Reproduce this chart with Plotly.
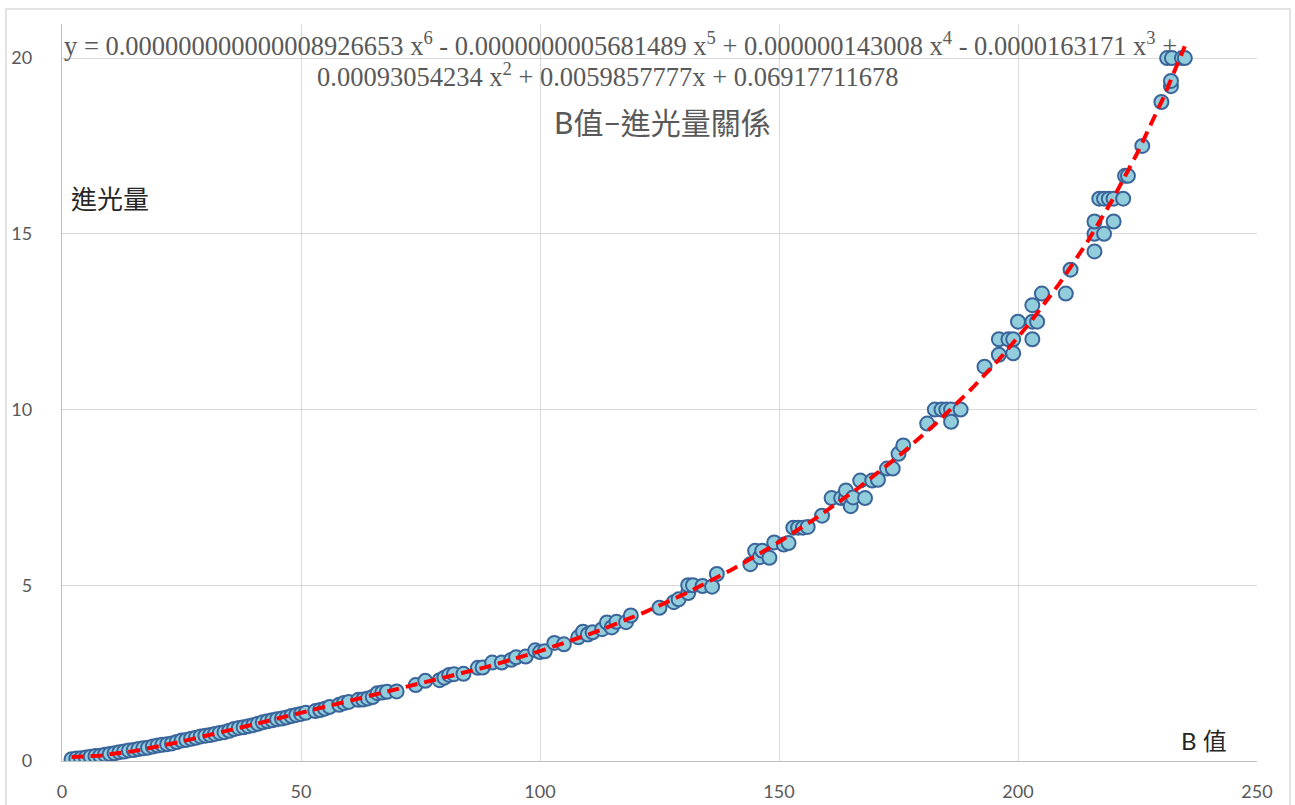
import numpy as np
import plotly.graph_objects as go

# B值 (x) and 進光量 (y)
b_values = [2, 3, 4, 5, 6, 7, 8, 9, 10, 11, 12, 13, 14, 15, 16, 17, 18, 19, 20, 21,
            22, 23, 24, 25, 26, 27, 28, 29, 30, 31, 32, 33, 34, 35, 36, 37, 38, 39, 40, 41,
            42, 43, 44, 45, 46, 47, 48, 49, 50, 51, 53, 54, 55, 56, 58, 59, 60, 62, 63, 64,
            65, 66, 67, 68, 70, 74, 76, 79, 80, 81, 82, 84, 87, 88, 90, 92, 94, 95, 97, 99,
            100, 101, 103, 105, 108, 109, 110, 111, 113, 114, 115, 116, 118, 119, 125, 128, 129, 131, 131, 132,
            134, 136, 137, 144, 145, 146, 146.5, 148, 149, 151, 152, 153, 154, 155, 156, 159, 161, 163, 164, 164,
            165, 165.5, 167, 168, 169.5, 170.7, 172.6, 173.8, 175, 176, 181, 182.6, 184, 185, 186, 186, 188, 193, 196, 196,
            198, 199, 199, 200, 203, 203, 203, 204, 205, 210, 211, 216, 216, 216, 217, 218, 218, 219, 220, 220,
            222, 222.4, 223, 226, 230, 231.2, 232, 232, 232.2, 234.3, 234.9]
light_values = [0.05, 0.07, 0.08, 0.10, 0.12, 0.14, 0.15, 0.18, 0.20, 0.22, 0.25, 0.27, 0.30, 0.31, 0.34, 0.36, 0.38, 0.41, 0.44, 0.46,
                0.48, 0.50, 0.54, 0.58, 0.60, 0.63, 0.66, 0.70, 0.72, 0.74, 0.77, 0.80, 0.82, 0.86, 0.91, 0.94, 0.96, 0.99, 1.02, 1.06,
                1.10, 1.13, 1.16, 1.19, 1.21, 1.24, 1.28, 1.31, 1.34, 1.37, 1.42, 1.45, 1.49, 1.54, 1.60, 1.65, 1.68, 1.74, 1.75, 1.78,
                1.82, 1.93, 1.95, 1.97, 1.98, 2.16, 2.28, 2.30, 2.37, 2.45, 2.47, 2.48, 2.65, 2.66, 2.80, 2.80, 2.88, 2.95, 2.97, 3.15,
                3.10, 3.12, 3.36, 3.32, 3.52, 3.68, 3.60, 3.66, 3.75, 3.94, 3.80, 3.96, 3.95, 4.14, 4.36, 4.52, 4.60, 4.78, 5.00, 5.00,
                4.98, 4.96, 5.32, 5.60, 5.98, 5.80, 5.98, 5.78, 6.22, 6.16, 6.20, 6.64, 6.64, 6.64, 6.66, 6.98, 7.48, 7.48, 7.48, 7.70,
                7.25, 7.50, 7.98, 7.48, 7.98, 8.00, 8.32, 8.32, 8.74, 8.98, 9.60, 10.0, 10.0, 10.0, 10.0, 9.65, 10.0, 11.22, 12.0, 11.56,
                12.0, 12.0, 11.6, 12.5, 12.0, 12.5, 12.97, 12.5, 13.3, 13.3, 13.98, 14.5, 15.0, 15.35, 16.0, 15.0, 16.0, 16.0, 16.0, 15.35,
                16.0, 16.65, 16.65, 17.5, 18.75, 20.0, 19.2, 19.35, 20.0, 20.0, 20.0]

x_ticks = [0, 50, 100, 150, 200, 250]
y_ticks = [0, 5, 10, 15, 20]

title_text = "B值−進光量關係"
x_label = "B 值"
y_label = "進光量"
equation_line1 = ("y = 0.000000000000008926653 x<sup>6</sup> - 0.0000000005681489 x<sup>5</sup> + "
                  "0.000000143008 x<sup>4</sup> - 0.0000163171 x<sup>3</sup> +")
equation_line2 = "0.00093054234 x<sup>2</sup> + 0.0059857777x + 0.06917711678"

# 6th-order polynomial trendline fitted to the data
bx = np.array(b_values, dtype=float)
ly = np.array(light_values, dtype=float)
coef = np.polyfit(bx, ly, 6)
tx = np.linspace(bx.min(), bx.max(), 300)
ty = np.polyval(coef, tx)

SANS = "Lato, 'Noto Sans CJK TC', sans-serif"
SERIF = "'Liberation Serif', 'Times New Roman', serif"


def px(xp):
    return (xp - 62) / 1195


def py(yp):
    return (761 - yp) / 737


fig = go.Figure()
fig.add_trace(go.Scatter(
    x=b_values, y=light_values, mode="markers",
    marker=dict(size=14, color="#92CDDC", line=dict(color="#3A659A", width=2)),
    showlegend=False, hoverinfo="x+y"))
fig.add_trace(go.Scatter(
    x=tx, y=ty, mode="lines",
    line=dict(color="#FF0000", width=4, dash="12px,7px"),
    showlegend=False, hoverinfo="skip"))

fig.update_layout(
    width=1295, height=805,
    margin=dict(l=62, r=38, t=24, b=44, autoexpand=False),
    paper_bgcolor="white", plot_bgcolor="white",
    font=dict(family=SANS, color="#595959", size=18),
    xaxis=dict(range=[0, 250], tickvals=x_ticks, showgrid=True, gridcolor="#D9D9D9", gridwidth=1.3,
               zeroline=False, showline=True, linecolor="#BFBFBF", linewidth=1.3, automargin=False,
               ticks="", ticklabelstandoff=14, tickfont=dict(size=18, color="#595959")),
    yaxis=dict(range=[0, 20.97], tickvals=y_ticks, showgrid=True, gridcolor="#D9D9D9", gridwidth=1.3,
               zeroline=False, showline=True, linecolor="#BFBFBF", linewidth=1.3, automargin=False,
               ticks="", ticklabelstandoff=25, tickfont=dict(size=18, color="#595959")),
    shapes=[dict(type="rect", xref="paper", yref="paper",
                 x0=px(6), x1=px(1290), y0=py(808), y1=py(9),
                 line=dict(color="#D9D9D9", width=1.5), layer="below")],
    annotations=[
        dict(text=equation_line1, xref="paper", yref="paper", x=px(620), y=py(44),
             xanchor="center", yanchor="middle", showarrow=False, align="center",
             font=dict(family=SERIF, size=26.5, color="#595959")),
        dict(text=equation_line2, xref="paper", yref="paper", x=px(607), y=py(75),
             xanchor="center", yanchor="middle", showarrow=False, align="center",
             font=dict(family=SERIF, size=26.5, color="#595959")),
        dict(text=title_text, xref="paper", yref="paper", x=px(662), y=py(122),
             xanchor="center", yanchor="middle", showarrow=False,
             font=dict(family=SANS, size=30, color="#595959")),
        dict(text=y_label, xref="paper", yref="paper", x=px(69), y=py(199),
             xanchor="left", yanchor="middle", showarrow=False,
             font=dict(family=SANS, size=26, color="#262626")),
        dict(text=x_label, xref="paper", yref="paper", x=px(1229), y=py(740),
             xanchor="right", yanchor="middle", showarrow=False,
             font=dict(family=SANS, size=24, color="#262626")),
    ],
)

fig.write_html("out.html", config={"displayModeBar": False},
               post_script="document.body.style.margin='0';document.body.style.overflow='hidden';")
